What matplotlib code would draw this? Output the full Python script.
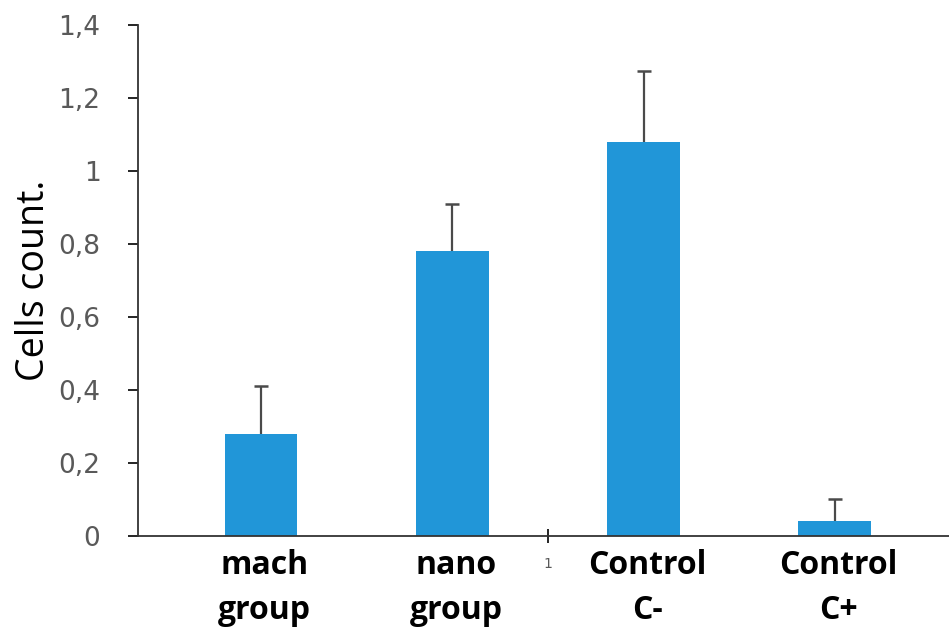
import numpy as np
import matplotlib.pyplot as plt
from matplotlib.ticker import FuncFormatter

# data
groups = ['mach\ngroup', 'nano\ngroup', 'Control\nC-', 'Control\nC+']
means = [0.28, 0.78, 1.08, 0.04]
errs = [0.13, 0.13, 0.195, 0.06]
yticks = [0, 0.2, 0.4, 0.6, 0.8, 1.0, 1.2, 1.4]

fig = plt.figure(figsize=(9.49, 6.38), dpi=100)
ax = fig.add_axes([0.1454, 0.16, 0.8546, 0.8008])

x = np.arange(len(groups))
ax.bar(x, means, width=0.38, color='#2196d8', zorder=2)
eb = ax.errorbar(x, means, yerr=[np.zeros(len(errs)), errs], fmt='none',
                 ecolor='#4a4a4a', elinewidth=1.6, capsize=5, capthick=1.8, zorder=3)
# only the upper cap, like the original
eb[1][0].set_visible(False)

ax.set_xlim(-0.643, 3.597)
ax.set_ylim(0, 1.4)
ax.set_yticks(yticks)
ax.yaxis.set_major_formatter(FuncFormatter(
    lambda v, p: ('%g' % round(v, 1)).replace('.', ',')))
ax.tick_params(axis='y', direction='out', length=7, width=1.2,
               labelsize=19, labelcolor='#595959', pad=20)
ax.set_xticks([1.5])
ax.set_xticklabels(['1'])
ax.tick_params(axis='x', direction='inout', length=10, width=1.2,
               labelsize=10, labelcolor='#595959', pad=10)

for s in ['top', 'right']:
    ax.spines[s].set_visible(False)
for s in ['left', 'bottom']:
    ax.spines[s].set_linewidth(1.3)
    ax.spines[s].set_color('#333333')

ax.set_ylabel('Cells count.', fontsize=27, family='Open Sans', labelpad=4)

tr = ax.get_xaxis_transform()
for xi, g in zip(x, groups):
    ax.text(xi + 0.02, -0.025, g, transform=tr, ha='center', va='top',
            fontsize=23, fontweight='bold', family='Open Sans', linespacing=1.5)

fig.savefig('out.png', dpi=100)
